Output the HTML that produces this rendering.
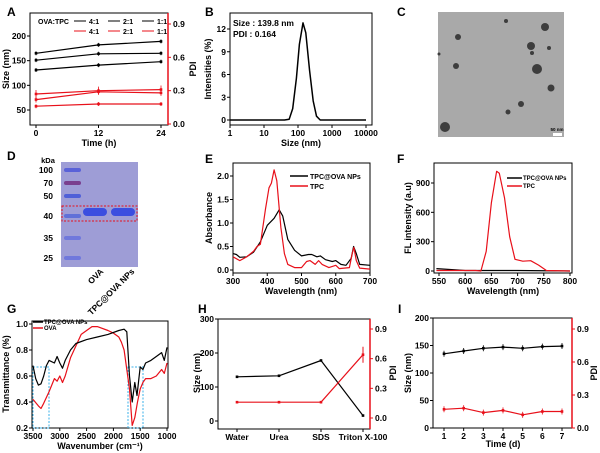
<!DOCTYPE html>
<html><head><meta charset="utf-8"><style>
body{margin:0;background:#fff}
svg{display:block;font-family:"Liberation Sans",Arial,sans-serif;font-weight:bold}
text{fill:#000}
</style></head><body>
<svg id="fig" width="600" height="453" viewBox="0 0 600 453">
<g id="root"></g>
</svg>
<script>
// ---------- data ----------
const aTimes=[0,12,24];
const aSize41=[151,164,165], aSize21=[165,182,189], aSize11=[131,141,148];
const aPdi41=[0.16,0.18,0.18], aPdi21=[0.27,0.30,0.31], aPdi11=[0.22,0.29,0.28];
const bSizes=[1,10,40,55,70,90,110,140,170,220,280,350,450,10000];
const bInt=[0,0,0,0.1,1.5,5.5,10,12.8,11.5,6.5,2.5,0.5,0,0];
const eWlBlack=[300,310,320,340,360,380,400,420,435,445,460,480,500,520,530,545,555,570,590,600,615,630,645,652,660,670,700];
const eAbsBlack=[0.35,0.33,0.27,0.28,0.38,0.6,0.95,1.1,1.28,1.15,0.65,0.42,0.3,0.33,0.33,0.28,0.3,0.22,0.18,0.2,0.12,0.1,0.25,0.5,0.35,0.12,0.1];
const eWlRed=[300,320,340,360,370,380,395,405,412,420,428,440,450,460,480,500,515,525,540,550,560,580,600,610,640,648,653,660,670,700];
const eAbsRed=[0.28,0.2,0.28,0.4,0.5,0.55,1.3,1.75,1.85,2.13,1.9,0.9,0.35,0.12,0.05,0.05,0.18,0.2,0.12,0.2,0.12,0.05,0.1,0.03,0.05,0.35,0.48,0.2,0.04,0.02];
const fWlRed=[545,620,630,640,650,660,665,675,685,695,710,725,740,755,800];
const fFlRed=[5,5,0,200,700,1020,1000,750,350,120,100,105,60,5,0];
const fWlBlack=[545,600,700,800];
const fFlBlack=[25,5,5,0];
const gWnBlack=[3500,3450,3400,3350,3300,3250,3200,3100,3050,3000,2950,2900,2800,2700,2500,2300,2100,1900,1800,1750,1700,1650,1600,1560,1500,1450,1400,1300,1200,1100,1050,1000];
const gTBlack=[0.68,0.58,0.53,0.54,0.6,0.68,0.72,0.7,0.75,0.7,0.66,0.72,0.8,0.85,0.88,0.9,0.92,0.95,0.96,0.94,0.6,0.4,0.55,0.45,0.67,0.65,0.7,0.72,0.75,0.78,0.72,0.82];
const gWnRed=[3500,3400,3350,3300,3200,3100,3050,3000,2950,2900,2800,2600,2400,2300,2100,2000,1900,1850,1800,1700,1650,1600,1550,1500,1450,1400,1300,1200,1100,1050,1000];
const gTRed=[0.42,0.37,0.35,0.39,0.48,0.58,0.56,0.6,0.55,0.6,0.74,0.92,0.98,0.98,0.95,0.93,0.9,0.86,0.8,0.5,0.22,0.28,0.4,0.5,0.55,0.58,0.58,0.6,0.65,0.62,0.7];
const hCats=["Water","Urea","SDS","Triton X-100"];
const hSize=[130,133,178,16];
const hPdi=[0.16,0.16,0.16,0.64];
const iDays=[1,2,3,4,5,6,7];
const iSize=[135,140,145,147,145,148,149];
const iPdi=[0.17,0.18,0.14,0.16,0.12,0.15,0.15];

// ---------- helpers ----------
const NS="http://www.w3.org/2000/svg";
const root=document.getElementById('root');
function el(tag,attrs,parent,txt){const e=document.createElementNS(NS,tag);for(const k in attrs)e.setAttribute(k,attrs[k]);if(txt!==undefined)e.textContent=txt;(parent||root).appendChild(e);return e;}
function lin(d0,d1,r0,r1){return v=>r0+(v-d0)*(r1-r0)/(d1-d0);}
function txt(x,y,s,size,anchor,color,name,rot){const t=el('text',{x:x,y:y,'font-size':size,'text-anchor':anchor||'middle',fill:color||'#000'},root,s);


if(rot)t.setAttribute('transform','rotate('+rot+' '+x+' '+y+')');return t;}
function box(x0,y0,x1,y1,name){const r=el('rect',{x:x0,y:y0,width:x1-x0,height:y1-y0,fill:'none',stroke:'#000','stroke-width':1});

}
function line(xs,ys,sx,sy,color,name,w){let d='';xs.forEach((v,i)=>{d+=(i?'L':'M')+sx(v).toFixed(1)+' '+sy(ys[i]).toFixed(1);});
const p=el('path',{d:d,fill:'none',stroke:color,'stroke-width':w||1.2,'stroke-linejoin':'round'});

return p;}
function xticks(vals,sx,y,labels,color){vals.forEach((v,i)=>{el('line',{x1:sx(v),x2:sx(v),y1:y,y2:y+3,stroke:'#000'});txt(sx(v),y+11,labels?labels[i]:String(v),8.5,'middle',color,'x-tick-label');});}
function yticks(vals,sy,x,labels,color,right){vals.forEach((v,i)=>{el('line',{x1:x,x2:right?x+3:x-3,y1:sy(v),y2:sy(v),stroke:color||'#000'});txt(right?x+5:x-4,sy(v)+3,labels?labels[i]:String(v),8.5,right?'start':'end',color,'y-tick-label');});}
function marks(xs,ys,sx,sy,color,name,err){xs.forEach((v,i)=>{const cx=sx(v),cy=sy(ys[i]);if(err){el('line',{x1:cx,x2:cx,y1:cy-err,y2:cy+err,stroke:color,'stroke-width':0.8});}
const c=el('rect',{x:cx-1.3,y:cy-1.3,width:2.6,height:2.6,fill:color});

});}
function panelLabel(x,y,s){txt(x,y,s,12,'start','#000','panel-label-'+s.toLowerCase());}
const RED='#e8101a';

// ---------- A ----------
panelLabel(7,16,'A');
{const sx=lin(0,24,36,161), sy=lin(50,200,110,36), sp=lin(0,0.9,124,24);
box(30,13,168,125,'panel-a-plot-area');
line(aTimes,aSize21,sx,sy,'#000','a-size-2-1');marks(aTimes,aSize21,sx,sy,'#000','a-point',2);
line(aTimes,aSize41,sx,sy,'#000','a-size-4-1');marks(aTimes,aSize41,sx,sy,'#000','a-point',2);
line(aTimes,aSize11,sx,sy,'#000','a-size-1-1');marks(aTimes,aSize11,sx,sy,'#000','a-point',2);
line(aTimes,aPdi21,sx,sp,RED,'a-pdi-2-1');marks(aTimes,aPdi21,sx,sp,RED,'a-point',4);
line(aTimes,aPdi41,sx,sp,RED,'a-pdi-4-1');marks(aTimes,aPdi41,sx,sp,RED,'a-point',2);
line(aTimes,aPdi11,sx,sp,RED,'a-pdi-1-1');marks(aTimes,aPdi11,sx,sp,RED,'a-point',3);
xticks(aTimes,sx,125);yticks([50,100,150,200],sy,30);
el('line',{x1:168,x2:168,y1:13,y2:125,stroke:RED,'stroke-width':1.5});
yticks([0,0.3,0.6,0.9],sp,168,['0.0','0.3','0.6','0.9'],RED,true);
txt(99,146,'Time (h)',9,'middle','#000','a-x-axis-title');
txt(9,69,'Size (nm)',9,'middle','#000','a-y-axis-title',-90);
txt(196,69,'PDI',9,'middle',RED,'a-y2-axis-title',-90);
txt(38,24,'OVA:TPC',7,'start','#000','a-legend-title');
[['4:1',80],['2:1',114],['1:1',148]].forEach(([l,x])=>{el('line',{x1:x-6,x2:x+6,y1:21,y2:21,stroke:'#000'});txt(x+9,24,l,7,'start','#000','a-legend-entry');
el('line',{x1:x-6,x2:x+6,y1:31,y2:31,stroke:RED});txt(x+9,34,l,7,'start',RED,'a-legend-entry');});
}
// ---------- B ----------
panelLabel(205,16,'B');
{const lx=lin(0,4,230,366), sx=v=>lx(Math.log10(v)), sy=lin(0,12,120,29);
box(230,13,372,125,'panel-b-plot-area');
line(bSizes,bInt,sx,sy,'#000','b-size-distribution',1.5);
xticks([1,10,100,1000,10000],sx,125,['1','10','100','1000','10000']);
yticks([0,3,6,9,12],sy,230);
txt(301,146,'Size (nm)',9,'middle','#000','b-x-axis-title');
txt(211,69,'Intensities (%)',9,'middle','#000','b-y-axis-title',-90);
txt(233,26,'Size : 139.8 nm',8.5,'start','#000','b-size-annotation');
txt(233,37,'PDI : 0.164',8.5,'start','#000','b-pdi-annotation');}
// ---------- C ----------
panelLabel(397,16,'C');
{const r=el('rect',{x:438,y:12,width:126,height:125,fill:'#a9a9a9'});


[[545,27,4],[458,37,3],[506,21,2],[531,46,4],[532,53,2],[549,48,2],[537,69,5],[456,66,3],[551,88,3.5],[521,104,3],[508,112,2.5],[445,127,5],[439,54,1.5]].forEach(p=>el('circle',{cx:p[0],cy:p[1],r:p[2],fill:'#2a2a2a',opacity:0.85}));
el('rect',{x:553,y:133,width:9,height:3,fill:'#fff'});
txt(557,131,'50 nm',4.5,'middle','#000','scale-bar-label');}
// ---------- D ----------
panelLabel(7,160,'D');
{const g=el('rect',{x:61,y:162,width:77,height:105,fill:'#9e9dd6'});


const mk=[['100',170,'#5a62d8'],['70',183,'#7a3f8e'],['50',196,'#5060d8'],['40',216,'#6070d8'],['35',238,'#7078dc'],['25',258,'#7078dc']];
mk.forEach(([l,y,c])=>{el('rect',{x:64,y:y-2,width:17,height:4,rx:2,fill:c});txt(53,y+3,l,8.5,'end','#000','gel-marker-label');});
txt(48,163,'kDa',7.5,'middle','#000','gel-kda-label');
el('rect',{x:83,y:208,width:24,height:8,rx:4,fill:'#3b4ee0'});
el('rect',{x:111,y:208,width:24,height:8,rx:4,fill:'#3b4ee0'});
el('rect',{x:62,y:206,width:75,height:15,fill:'none',stroke:RED,'stroke-dasharray':'2,1.5'});
txt(104,272,'OVA',8.5,'end','#000','lane-label-ova',-45);
txt(135,272,'TPC@OVA NPs',8.5,'end','#000','lane-label-tpc-ova',-45);}
// ---------- E ----------
panelLabel(205,163,'E');
{const sx=lin(300,700,233,370), sy=lin(0,2,270,176);
box(233,163,370,273,'panel-e-plot-area');
line(eWlBlack,eAbsBlack,sx,sy,'#000','e-tpc-ova-curve');
line(eWlRed,eAbsRed,sx,sy,RED,'e-tpc-curve');
xticks([300,400,500,600,700],sx,273);yticks([0,0.5,1,1.5,2],sy,233,['0.0','0.5','1.0','1.5','2.0']);
txt(301,294,'Wavelength (nm)',9,'middle','#000','e-x-axis-title');
txt(212,218,'Absorbance',9,'middle','#000','e-y-axis-title',-90);
el('line',{x1:290,x2:308,y1:176,y2:176,stroke:'#000','stroke-width':1.5});txt(310,179,'TPC@OVA NPs',7,'start','#000','e-legend-entry');
el('line',{x1:290,x2:308,y1:186,y2:186,stroke:RED,'stroke-width':1.5});txt(310,189,'TPC',7,'start','#000','e-legend-entry');}
// ---------- F ----------
panelLabel(397,163,'F');
{const sx=lin(550,800,439,570), sy=lin(0,900,271,183);
box(434,163,572,273,'panel-f-plot-area');
line(fWlBlack,fFlBlack,sx,sy,'#000','f-tpc-ova-curve');
line(fWlRed,fFlRed,sx,sy,RED,'f-tpc-curve');
xticks([550,600,650,700,750,800],sx,273);yticks([0,300,600,900],sy,434);
txt(503,294,'Wavelength (nm)',9,'middle','#000','f-x-axis-title');
txt(411,218,'FL intensity (a.u)',9,'middle','#000','f-y-axis-title',-90);
el('line',{x1:507,x2:522,y1:178,y2:178,stroke:'#000','stroke-width':1.5});txt(523,180,'TPC@OVA NPs',6,'start','#000','f-legend-entry');
el('line',{x1:507,x2:522,y1:186,y2:186,stroke:RED,'stroke-width':1.5});txt(523,188,'TPC',6,'start','#000','f-legend-entry');}
// ---------- G ----------
panelLabel(7,313,'G');
{const sx=lin(3500,1000,33,167), sy=lin(0.2,1.0,428,324);
box(32,321,168,428,'panel-g-plot-area');
el('rect',{x:33,y:367,width:16,height:61,fill:'none',stroke:'#3ab0e8','stroke-dasharray':'2,1.5'});
el('rect',{x:128,y:367,width:15,height:61,fill:'none',stroke:'#3ab0e8','stroke-dasharray':'2,1.5'});
line(gWnRed,gTRed,sx,sy,RED,'g-ova-curve');
line(gWnBlack,gTBlack,sx,sy,'#000','g-tpc-ova-curve');
xticks([3500,3000,2500,2000,1500,1000],sx,428);
yticks([0.2,0.4,0.6,0.8,1.0],sy,32,['0.2','0.4','0.6','0.8','1.0']);
txt(100,449,'Wavenumber (cm⁻¹)',9,'middle','#000','g-x-axis-title');
txt(9,374,'Transmittance (%)',9,'middle','#000','g-y-axis-title',-90);
el('line',{x1:33,x2:43,y1:322,y2:322,stroke:'#000','stroke-width':1.5});txt(44,324,'TPC@OVA NPs',6,'start','#000','g-legend-entry');
el('line',{x1:33,x2:43,y1:328,y2:328,stroke:RED,'stroke-width':1.5});txt(44,330,'OVA',6,'start','#000','g-legend-entry');}
// ---------- H ----------
panelLabel(198,313,'H');
{const xi=hCats.map((c,i)=>i), sx=lin(0,3,237,363), sy=lin(0,300,421,319), sp=lin(0,0.9,418,329);
box(218,319,370,429,'panel-h-plot-area');
line(xi,hSize,sx,sy,'#000','h-size-line');marks(xi,hSize,sx,sy,'#000','h-size-point');
line(xi,hPdi,sx,sp,RED,'h-pdi-line');marks(xi,hPdi,sx,sp,RED,'h-pdi-point',1);
const cx=sx(3),cy=sp(hPdi[3]);el('line',{x1:cx,x2:cx,y1:cy-8,y2:cy+8,stroke:RED});
xticks(xi,sx,429,hCats);
yticks([0,100,200,300],sy,218);
el('line',{x1:370,x2:370,y1:319,y2:429,stroke:RED,'stroke-width':1.5});
yticks([0,0.3,0.6,0.9],sp,370,['0.0','0.3','0.6','0.9'],RED,true);
txt(200,373,'Size (nm)',9,'middle','#000','h-y-axis-title',-90);
txt(396,373,'PDI',9,'middle',RED,'h-y2-axis-title',-90);}
// ---------- I ----------
panelLabel(398,313,'I');
{const sx=lin(1,7,444,562), sy=lin(0,200,428,318), sp=lin(0,0.9,428,329);
box(433,318,572,428,'panel-i-plot-area');
line(iDays,iSize,sx,sy,'#000','i-size-line');marks(iDays,iSize,sx,sy,'#000','i-size-point',3);
line(iDays,iPdi,sx,sp,RED,'i-pdi-line');marks(iDays,iPdi,sx,sp,RED,'i-pdi-point',3);
xticks(iDays,sx,428);yticks([0,50,100,150,200],sy,433);
el('line',{x1:572,x2:572,y1:318,y2:428,stroke:RED,'stroke-width':1.5});
yticks([0,0.3,0.6,0.9],sp,572,['0.0','0.3','0.6','0.9'],RED,true);
txt(503,447,'Time (d)',9,'middle','#000','i-x-axis-title');
txt(411,373,'Size (nm)',9,'middle','#000','i-y-axis-title',-90);
txt(597,373,'PDI',9,'middle',RED,'i-y2-axis-title',-90);}
</script>
</body></html>
